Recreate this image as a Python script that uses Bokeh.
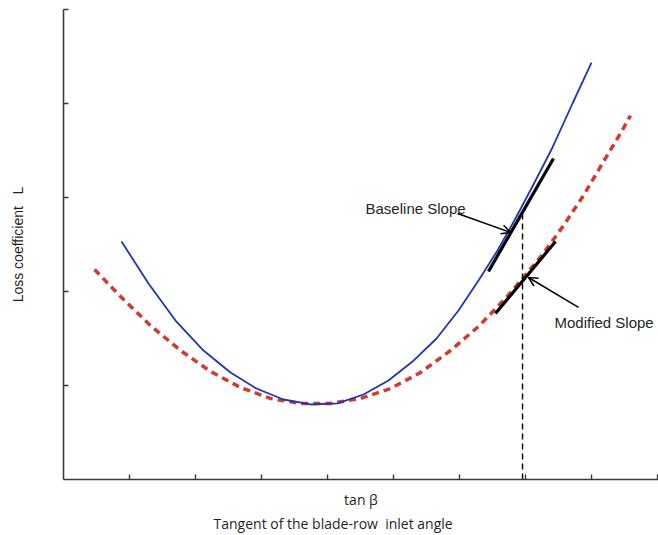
import numpy as np
from bokeh.plotting import figure
from bokeh.models import Range1d, FixedTicker, Label, Arrow, OpenHead, Title
from bokeh.embed import file_html
from bokeh.resources import INLINE

# Baseline loss curve (blue, solid)
baseline_x = [0.879, 1.288, 1.697, 2.121, 2.530, 2.924, 3.333, 3.742, 4.152, 4.545,
              4.924, 5.288, 5.652, 5.985, 6.288, 6.576, 6.848, 7.121, 7.409, 7.712, 8.000]
baseline_y = [2.532, 2.085, 1.691, 1.372, 1.138, 0.968, 0.851, 0.798, 0.809, 0.904,
              1.053, 1.255, 1.500, 1.798, 2.117, 2.436, 2.777, 3.138, 3.532, 4.000, 4.436]

# Modified loss curve (red, dashed)
modified_x = [0.470, 0.864, 1.318, 1.773, 2.227, 2.682, 3.136, 3.591, 4.045, 4.500, 4.955,
              5.409, 5.864, 6.288, 6.697, 6.955, 7.258, 7.576, 7.879, 8.182, 8.439, 8.591]
modified_y = [2.234, 1.947, 1.638, 1.372, 1.149, 0.979, 0.862, 0.809, 0.809, 0.862, 0.968,
              1.138, 1.372, 1.628, 1.926, 2.138, 2.394, 2.702, 3.021, 3.383, 3.681, 3.872]

# Tangent (slope) segments
baseline_slope_x = [6.439, 7.424]
baseline_slope_y = [2.213, 3.415]
modified_slope_x = [6.545, 7.455]
modified_slope_y = [1.766, 2.532]

# Design point vertical marker
design_x = [6.955, 6.955]
design_y = [0.0, 2.840]

x_ticks = [1, 2, 3, 4, 5, 6, 7, 8, 9]
y_ticks = [1, 2, 3, 4, 5]

NB = "\u00a0"

p = figure(width=658, height=535, output_backend="svg", toolbar_location=None,
           x_range=Range1d(0, 9.015), y_range=Range1d(0, 5.0),
           min_border_left=63, min_border_right=0, min_border_top=9, min_border_bottom=56)
p.outline_line_color = None
p.grid.visible = False
p.background_fill_color = "white"
p.border_fill_color = "white"

for ax, ticks in ((p.xaxis, x_ticks), (p.yaxis, y_ticks)):
    ax.ticker = FixedTicker(ticks=ticks)
    ax.major_tick_in = 5
    ax.major_tick_out = 0
    ax.minor_tick_line_color = None
    ax.major_label_text_color = None
    ax.major_label_text_font_size = "1px"
    ax.major_label_standoff = 0
    ax.axis_line_color = "#3a3a3a"
    ax.axis_line_width = 1.6
    ax.major_tick_line_color = "#3a3a3a"
    ax.major_tick_line_width = 1.4
    ax.axis_label_text_font_style = "normal"
    ax.axis_label_text_color = "#1f1f1f"

p.yaxis.axis_label = "Loss coefficient" + NB * 3 + "L"
p.yaxis.axis_label_text_font = "Liberation Sans"
p.yaxis.axis_label_text_font_size = "14px"
p.yaxis.axis_label_standoff = 38

p.xaxis.axis_label = "tan β"
p.xaxis.axis_label_text_font = "Open Sans"
p.xaxis.axis_label_text_font_size = "14px"
p.xaxis.axis_label_standoff = 10

p.add_layout(Title(text="Tangent of the blade-row" + NB * 2 + "inlet angle", align="left", offset=150,
                   text_font="Open Sans", text_font_size="14px", text_font_style="normal",
                   text_color="#1f1f1f", standoff=0), "below")

p.line(modified_x, modified_y, line_color="#d2392f", line_width=3.5, line_dash="7 5")
p.line(baseline_x, baseline_y, line_color="#2036b0", line_width=1.8)

p.line(design_x, design_y, line_color="black", line_width=1.4, line_dash="6 4")
p.line(baseline_slope_x, baseline_slope_y, line_color="black", line_width=3.2)
p.line(modified_slope_x, modified_slope_y, line_color="black", line_width=3.2)

p.add_layout(Arrow(end=OpenHead(size=9, line_width=1.5, line_color="black"),
                   x_start=5.970, y_start=2.830, x_end=6.773, y_end=2.628,
                   line_width=1.5, line_color="black"))
p.add_layout(Arrow(end=OpenHead(size=9, line_width=1.5, line_color="black"),
                   x_start=7.803, y_start=1.830, x_end=7.045, y_end=2.149,
                   line_width=1.5, line_color="black"))

p.add_layout(Label(x=4.576, y=2.883, text="Baseline Slope", text_baseline="middle",
                   text_font="Liberation Sans", text_font_size="15px", text_color="#262626"))
p.add_layout(Label(x=7.439, y=1.670, text="Modified Slope", text_baseline="middle",
                   text_font="Liberation Sans", text_font_size="15px", text_color="#262626"))

open("out.html", "w").write(file_html(p, INLINE))
